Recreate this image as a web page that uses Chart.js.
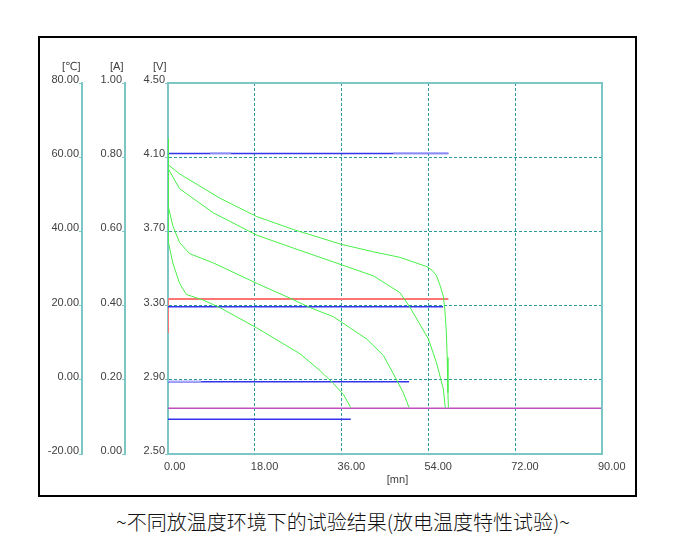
<!DOCTYPE html>
<html>
<head>
<meta charset="utf-8">
<script src="https://cdn.jsdelivr.net/npm/chart.js@4.4.1/dist/chart.umd.min.js"></script>
<style>
    body { margin: 0; background: #fff; width: 678px; height: 543px; position: relative; overflow: hidden; }
    #frame { position: absolute; left: 38px; top: 36px; width: 595px; height: 457px; border: 2px solid #000; }
    #frame canvas { display: block; }
    #caption { position: absolute; left: 4px; top: 510px; width: 678px; text-align: center;
               font-family: "Noto Sans CJK SC", sans-serif; font-size: 20px; font-weight: 300;
               line-height: 24px; color: #111; }
</style>
</head>
<body>
<div id="frame"><canvas id="chart" width="595" height="457"></canvas></div>
<div id="caption">~不同放温度环境下的试验结果(放电温度特性试验)~</div>
<script>
// тики осей
const timeTicks = [0, 18, 36, 54, 72, 90];
const voltTicks = [2.5, 2.9, 3.3, 3.7, 4.1, 4.5];
const ampTicks = [0, 0.2, 0.4, 0.6, 0.8, 1.0];
const tempTicks = [-20, 0, 20, 40, 60, 80];

// напряжение [мин, В]
const voltA = [[0, 4.20], [0, 4.06], [2.4, 4.01], [10.7, 3.88], [18.4, 3.78], [26.0, 3.71], [36.0, 3.63],
    [42.6, 3.59], [48.1, 3.56], [53.7, 3.51], [54.8, 3.49], [55.7, 3.46], [56.4, 3.41], [57.1, 3.35],
    [57.4, 3.28], [57.7, 3.17], [57.9, 3.02], [58.05, 2.83], [58.15, 2.75]];
const voltB = [[0, 4.20], [0, 4.04], [2.4, 3.93], [9.4, 3.80], [18.4, 3.68], [26.0, 3.61], [36.0, 3.52],
    [42.6, 3.46], [48.1, 3.37], [50.2, 3.29], [54.0, 3.12], [55.7, 2.99], [57.1, 2.85], [57.5, 2.75]];
const voltC = [[0, 4.20], [0, 3.84], [1.0, 3.73], [2.4, 3.64], [4.5, 3.58], [9.4, 3.53], [18.4, 3.42],
    [25.3, 3.34], [29.4, 3.29], [34.3, 3.24], [41.2, 3.12], [44.7, 3.03], [47.4, 2.90], [48.8, 2.83], [50.0, 2.75]];
const voltD = [[0, 4.20], [0, 3.65], [1.0, 3.53], [2.4, 3.42], [3.8, 3.36], [7.3, 3.33], [10.7, 3.29],
    [18.4, 3.18], [27.4, 3.04], [31.5, 2.95], [34.3, 2.88], [36.4, 2.82], [37.9, 2.75]];
const cutoff = [[0, 2.746], [90, 2.746]];

// ток [мин, А]
const current = [[0, 0.326], [0, 0.418], [58.15, 0.418]];

// температура [мин, °C]
const temp60 = [[0, 61.0], [58.15, 61.0]];
const temp60light = [[8.7, 61.1], [13.1, 61.1], [null, null], [46.7, 61.1], [58.15, 61.1]];
const temp20 = [[0, 19.7], [57.05, 19.7]];
const temp0 = [[0, -0.5], [50.0, -0.5]];
const temp0light = [[0, -0.4], [6.9, -0.4]];
const tempM10 = [[0, -10.6], [37.9, -10.6]];

const teal = '#7cc6c6';
const gridTeal = '#2e9a9a';
const labelColor = '#404040';

Chart.defaults.font.family = '"Liberation Sans", "DejaVu Sans", sans-serif';
Chart.defaults.font.size = 11;
Chart.defaults.color = labelColor;

function pts(arr) {
    return arr.map(([x, y]) => ({ x: x, y: y }));
}

function series(arr, axis, color, width) {
    return {
        data: pts(arr),
        yAxisID: axis,
        borderColor: color,
        borderWidth: width,
        pointRadius: 0,
        tension: 0,
        fill: false,
        spanGaps: false
    };
}

function sideAxis(ticks, weight, width, withGrid) {
    return {
        type: 'linear',
        position: 'left',
        weight: weight,
        min: ticks[0],
        max: ticks[ticks.length - 1],
        afterBuildTicks: s => { s.ticks = ticks.map(v => ({ value: v })); },
        afterFit: s => { s.width = width; s.paddingTop = 0; s.paddingBottom = 0; },
        grid: {
            drawOnChartArea: withGrid,
            drawTicks: true,
            tickLength: 3,
            tickColor: teal,
            tickWidth: 1,
            color: ctx => (ctx.tick && (ctx.index === 0 || ctx.index === ticks.length - 1)) ? 'rgba(0,0,0,0)' : gridTeal,
            lineWidth: 1
        },
        border: { color: teal, width: 2, dash: [3, 2] },
        ticks: {
            padding: 0,
            labelOffset: -3,
            autoSkip: false,
            callback: v => Number(v).toFixed(2)
        }
    };
}

// рамка области графика и подписи единиц
const decorPlugin = {
    id: 'decor',
    afterDatasetsDraw(chart) {
        const { ctx, chartArea, scales } = chart;
        ctx.save();
        ctx.strokeStyle = teal;
        ctx.lineWidth = 2;
        ctx.beginPath();
        ctx.moveTo(chartArea.left, chartArea.top);
        ctx.lineTo(chartArea.right, chartArea.top);
        ctx.lineTo(chartArea.right, chartArea.bottom);
        ctx.stroke();

        ctx.fillStyle = labelColor;
        ctx.font = '11px "Liberation Sans", "DejaVu Sans", sans-serif';
        ctx.textAlign = 'right';
        ctx.textBaseline = 'middle';
        ctx.fillText('[℃]', scales.T.right - 1.5, 29);
        ctx.fillText('[A]', scales.A.right - 1.5, 29);
        ctx.fillText('[V]', scales.V.right - 1.5, 29);

        ctx.textAlign = 'center';
        ctx.fillText('[mn]', chartArea.left + 229.5, chartArea.bottom + 26);
        ctx.restore();
    }
};

const ctx = document.getElementById('chart').getContext('2d');
new Chart(ctx, {
    type: 'line',
    data: {
        datasets: [
            series(voltA, 'V', '#48f048', 1),
            series(voltB, 'V', '#48f048', 1),
            series(voltC, 'V', '#48f048', 1),
            series(voltD, 'V', '#48f048', 1),
            series(temp60light, 'T', '#a8a8ff', 1.5),
            series(temp0light, 'T', '#a8a8ff', 1.5),
            series(temp60, 'T', '#3434ec', 1.5),
            series(temp20, 'T', '#3434ec', 1.5),
            series(temp0, 'T', '#3434ec', 1.5),
            series(tempM10, 'T', '#3434ec', 1.5),
            series(current, 'A', '#ff7474', 2),
            series(cutoff, 'V', '#c04cc0', 1.5)
        ]
    },
    options: {
        responsive: false,
        animation: false,
        layout: { padding: { left: 0, top: 45, right: 33, bottom: 0 } },
        plugins: {
            legend: { display: false },
            tooltip: { enabled: false }
        },
        scales: {
            x: {
                type: 'linear',
                position: 'bottom',
                min: 0,
                max: 90,
                afterBuildTicks: s => { s.ticks = timeTicks.map(v => ({ value: v })); },
                afterFit: s => { s.height = 41; s.paddingLeft = 0; s.paddingRight = 0; },
                grid: {
                    drawTicks: false,
                    color: ctx => (ctx.tick && (ctx.index === 0 || ctx.index === timeTicks.length - 1)) ? 'rgba(0,0,0,0)' : gridTeal,
                    lineWidth: 1
                },
                border: { color: teal, width: 2, dash: [3, 2] },
                ticks: {
                    padding: 6,
                    align: 'start',
                    labelOffset: -4,
                    maxRotation: 0,
                    autoSkip: false,
                    callback: v => Number(v).toFixed(2)
                }
            },
            T: sideAxis(tempTicks, 3, 42, false),
            A: sideAxis(ampTicks, 2, 43, false),
            V: sideAxis(voltTicks, 1, 43, true)
        }
    },
    plugins: [decorPlugin]
});
</script>
</body>
</html>
